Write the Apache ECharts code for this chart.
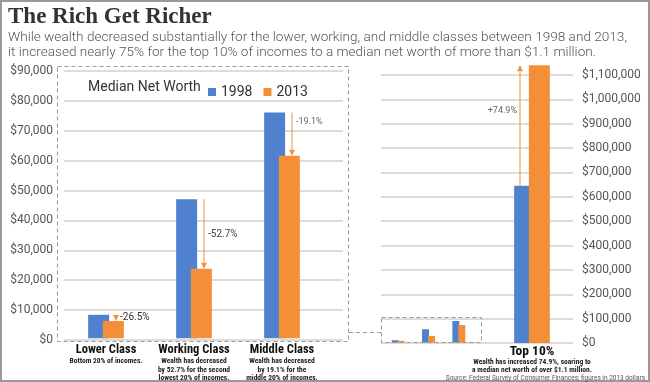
<!DOCTYPE html>
<html><head><meta charset="utf-8">
<script src="https://cdn.jsdelivr.net/npm/echarts@6/dist/echarts.min.js"></script>
<style>html,body{margin:0;padding:0;background:#fff}#c{width:650px;height:382px}</style>
</head><body><div id="c"></div>
<script>
// ---- data ----
const categories = ['Lower Class', 'Working Class', 'Middle Class'];
const categoryNotes = [
  'Bottom 20% of incomes.',
  'Wealth has decreased\nby 52.7% for the second\nlowest 20% of incomes.',
  'Wealth has decreased\nby 19.1% for the\nmiddle 20% of incomes.'
];
const worth1998 = [7900, 46800, 76000];
const worth2013 = [5800, 23400, 61500];
const changeLabels = ['-26.5%', '-52.7%', '-19.1%'];

const topCategory = ['Top 10%'];
const topNote = 'Wealth has increased 74.9%, soaring to\na median net worth of over $1.1 million.';
const top1998 = [645000];
const top2013 = [1140000];
const topChangeLabels = ['+74.9%'];

const seriesNames = ['1998', '2013'];
const leftTicks = { min: 0, max: 90000, interval: 10000 };
const rightTicks = { min: 0, max: 1100000, interval: 100000 };

const titleText = 'The Rich Get Richer';
const subtitleText = 'While wealth decreased substantially for the lower, working, and middle classes between 1998 and 2013,\nit increased nearly 75% for the top 10% of incomes to a median net worth of more than $1.1 million.';
const sourceText = 'Source: Federal Survey of Consumer Finances; figures in 2013 dollars';

// ---- styles ----
const BLUE = '#4f81cf', ORANGE = '#f28f38';
const FONT = 'Roboto, "Noto Sans", sans-serif';
const NARROW = '"Liberation Sans Narrow", "Roboto Condensed", Roboto, sans-serif';
const money = v => '$' + v.toLocaleString('en-US');

function arrowRenderer(labels, cfg) {
  return function (params, api) {
    const i = params.dataIndex;
    const p0 = api.coord([api.value(0), api.value(1)]);
    const p1 = api.coord([api.value(0), api.value(2)]);
    const x = p0[0] + cfg.offset;
    const y0 = p0[1], y1 = p1[1];
    const dir = y1 > y0 ? 1 : -1;
    const ah = 6, aw = 3;
    const ly = y0 + (y1 - y0) * cfg.frac[i];
    return {
      type: 'group',
      children: [
        { type: 'line', shape: { x1: x, y1: y0, x2: x, y2: y1 - dir * ah }, style: { stroke: ORANGE, lineWidth: 1 } },
        { type: 'polygon', shape: { points: [[x - aw, y1 - dir * ah], [x + aw, y1 - dir * ah], [x, y1]] }, style: { fill: ORANGE } },
        { type: 'text', x: x + cfg.dx, y: ly,
          style: { text: labels[i], fill: cfg.color[i], font: cfg.font[i], align: cfg.align, verticalAlign: 'middle', textAlign: cfg.align, textVerticalAlign: 'middle' } }
      ]
    };
  };
}

const labelRich = {
  a: { fontFamily: NARROW, fontSize: 12.5, fontWeight: 'bold', color: '#111', lineHeight: 14 },
  b: { fontFamily: NARROW, fontSize: 7.5, fontWeight: 'bold', color: '#222', lineHeight: 8.3 }
};
const topRich = {
  a: { fontFamily: NARROW, fontSize: 13.5, fontWeight: 'bold', color: '#111', lineHeight: 13 },
  b: { fontFamily: NARROW, fontSize: 7.5, fontWeight: 'bold', color: '#222', lineHeight: 8.3 }
};

const chart = echarts.init(document.getElementById('c'), null, { renderer: 'canvas' });
chart.setOption({
  animation: false,
  backgroundColor: '#fff',
  legend: {
    data: seriesNames, left: 203, top: 80, icon: 'rect', itemWidth: 8, itemHeight: 8, itemGap: 11,
    selectedMode: false, textStyle: { fontFamily: FONT, fontSize: 14, color: '#333' }
  },
  grid: [
    { left: 64, top: 71, width: 279, height: 269 },   // 0 left axis + split lines
    { left: 62, top: 71, width: 264, height: 269 },   // 1 left bars
    { left: 381, top: 75, width: 192, height: 268 },  // 2 right axis + split lines
    { left: 510, top: 75, width: 44, height: 268 },   // 3 top 10% bars
    { left: 383, top: 317, width: 91, height: 25.5 }  // 4 inset
  ],
  xAxis: [
    { gridIndex: 0, type: 'category', data: [''], show: false },
    { gridIndex: 1, type: 'category', data: categories,
      axisLine: { show: false }, axisTick: { show: false },
      axisLabel: { margin: 5, interval: 0, rich: labelRich,
        formatter: (v, i) => '{a|' + v + '}\n' + categoryNotes[i].split('\n').map(s => '{b|' + s + '}').join('\n') } },
    { gridIndex: 3, type: 'category', data: topCategory,
      axisLine: { show: false }, axisTick: { show: false },
      axisLabel: { margin: 2, interval: 0, rich: topRich,
        formatter: v => '{a|' + v + '}\n' + topNote.split('\n').map(s => '{b|' + s + '}').join('\n') } },
    { gridIndex: 4, type: 'category', data: categories, show: false },
    { gridIndex: 2, type: 'category', data: [''], show: false }
  ],
  yAxis: [
    { gridIndex: 0, type: 'value', min: leftTicks.min, max: leftTicks.max, interval: leftTicks.interval,
      axisLine: { show: false }, axisTick: { show: false },
      axisLabel: { formatter: money, margin: 11, fontFamily: FONT, fontSize: 12, color: '#555' },
      splitLine: { lineStyle: { color: '#dcdcdc', width: 2 } } },
    { gridIndex: 1, type: 'value', min: leftTicks.min, max: leftTicks.max, interval: leftTicks.interval, show: false, splitLine: { show: false } },
    { gridIndex: 3, type: 'value', min: rightTicks.min, max: rightTicks.max, interval: rightTicks.interval, show: false, splitLine: { show: false } },
    { gridIndex: 4, type: 'value', min: leftTicks.min, max: leftTicks.max, show: false, splitLine: { show: false } },
    { gridIndex: 2, type: 'value', position: 'right', min: rightTicks.min, max: rightTicks.max, interval: rightTicks.interval,
      axisLine: { show: false }, axisTick: { show: false },
      axisLabel: { formatter: money, margin: 9, fontFamily: FONT, fontSize: 12, color: '#555' },
      splitLine: { lineStyle: { color: '#dcdcdc', width: 2 } } }
  ],
  series: [
    { name: seriesNames[0], type: 'bar', xAxisIndex: 1, yAxisIndex: 1, data: worth1998, barWidth: 21, barGap: '-30%', itemStyle: { color: BLUE } },
    { name: seriesNames[1], type: 'bar', xAxisIndex: 1, yAxisIndex: 1, data: worth2013, barWidth: 21, barGap: '-30%', itemStyle: { color: ORANGE } },
    { name: seriesNames[0], type: 'bar', xAxisIndex: 3, yAxisIndex: 3, data: worth1998, barWidth: 7, barGap: '-15%', itemStyle: { color: BLUE } },
    { name: seriesNames[1], type: 'bar', xAxisIndex: 3, yAxisIndex: 3, data: worth2013, barWidth: 7, barGap: '-15%', itemStyle: { color: ORANGE } },
    { name: seriesNames[0], type: 'bar', xAxisIndex: 2, yAxisIndex: 2, data: top1998, barWidth: 21, barGap: '-30%', clip: false, itemStyle: { color: BLUE } },
    { name: seriesNames[1], type: 'bar', xAxisIndex: 2, yAxisIndex: 2, data: top2013, barWidth: 21, barGap: '-30%', clip: false, itemStyle: { color: ORANGE } },
    { type: 'custom', xAxisIndex: 1, yAxisIndex: 1, z: 5, silent: true, clip: false,
      data: categories.map((c, i) => [i, worth1998[i], worth2013[i]]),
      renderItem: arrowRenderer(changeLabels, { offset: 10, dx: 4, align: 'left', frac: [0.5, 0.5, 0.21],
        color: ['#333', '#444', '#666'], font: ['10px ' + FONT, '10px ' + FONT, '9px ' + FONT] }) },
    { type: 'custom', xAxisIndex: 2, yAxisIndex: 2, z: 5, silent: true, clip: false,
      data: topCategory.map((c, i) => [i, top1998[i], top2013[i]]),
      renderItem: arrowRenderer(topChangeLabels, { offset: -12, dx: -3, align: 'right', frac: [0.62],
        color: ['#666'], font: ['9px ' + FONT] }) }
  ],
  graphic: [
    { type: 'rect', shape: { x: 1, y: 1, width: 648, height: 380 }, style: { fill: null, stroke: '#999', lineWidth: 2 }, silent: true },
    { type: 'rect', shape: { x: 57.5, y: 66.5, width: 291, height: 275 }, style: { fill: null, stroke: '#999', lineWidth: 1, lineDash: [4, 3] }, silent: true, z: 10 },
    { type: 'line', shape: { x1: 349, y1: 332.5, x2: 381, y2: 332.5 }, style: { stroke: '#999', lineWidth: 1, lineDash: [4, 3] }, silent: true, z: 10 },
    { type: 'rect', shape: { x: 381.5, y: 317.5, width: 100, height: 25 }, style: { fill: null, stroke: '#999', lineWidth: 1, lineDash: [4, 3] }, silent: true, z: 10 },
    { type: 'text', x: 8, y: 17, style: { text: titleText, font: 'bold 23px "Liberation Serif", serif', fill: '#333', verticalAlign: 'middle', textVerticalAlign: 'middle' }, silent: true },
    { type: 'text', x: 8, y: 45, style: { text: subtitleText, font: '300 13.6px ' + FONT, lineHeight: 15, fill: '#555', verticalAlign: 'middle', textVerticalAlign: 'middle' }, silent: true },
    { type: 'text', x: 88, y: 87, style: { text: 'Median Net Worth', font: '14px ' + FONT, fill: '#333', verticalAlign: 'middle', textVerticalAlign: 'middle' }, silent: true },
    { type: 'text', x: 645, y: 378, style: { text: sourceText, font: '6.5px ' + FONT, fill: '#555', align: 'right', textAlign: 'right', verticalAlign: 'middle', textVerticalAlign: 'middle' }, silent: true }
  ]
});
</script></body></html>
